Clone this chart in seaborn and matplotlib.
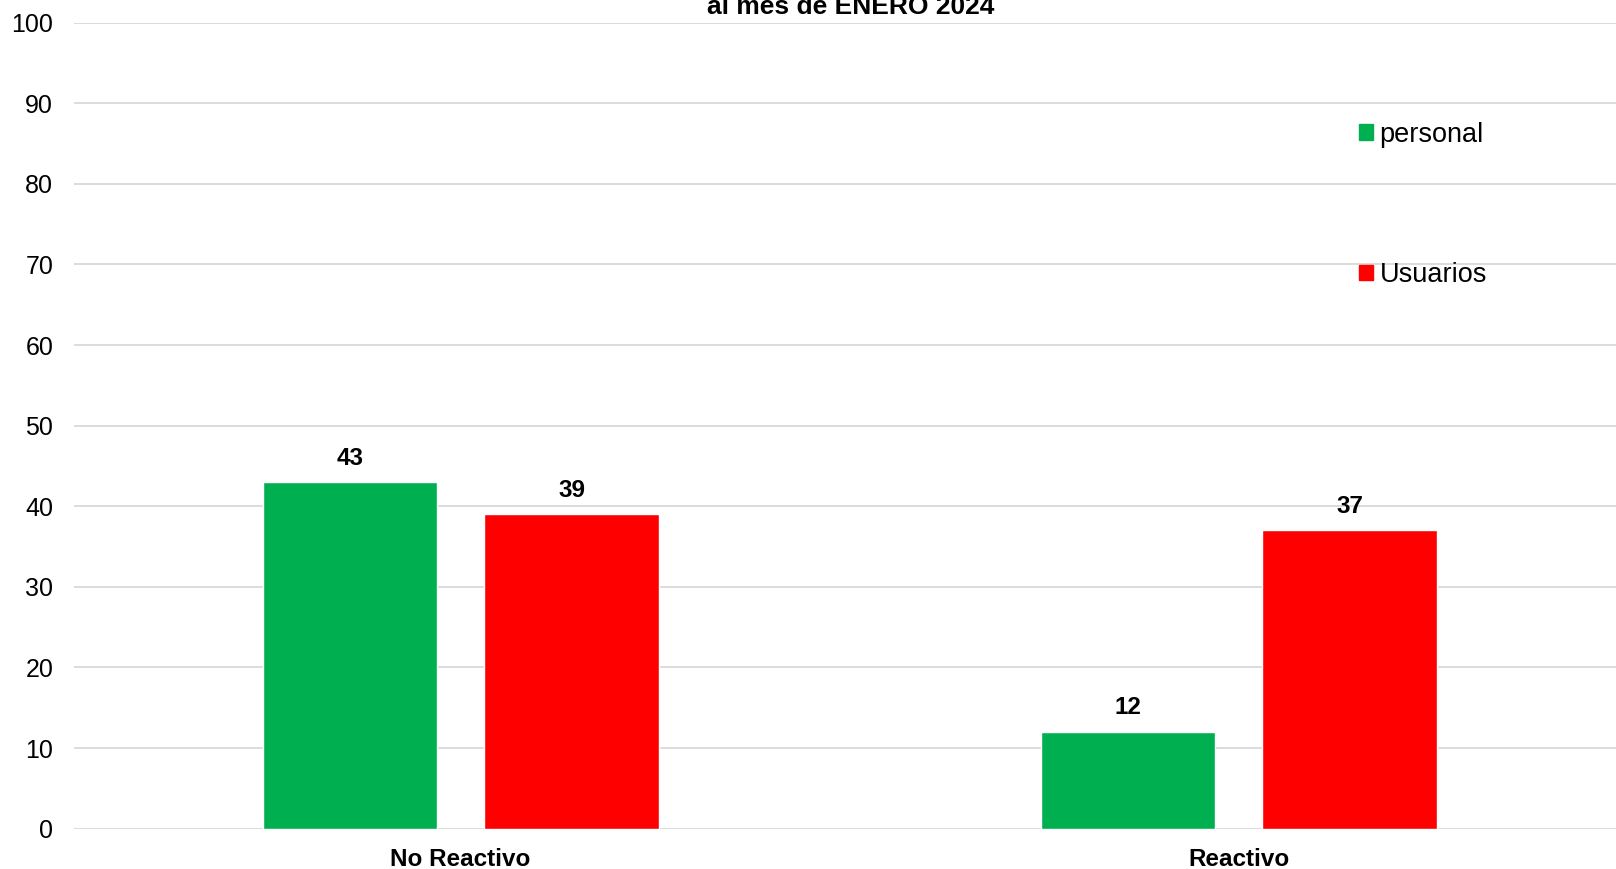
import pandas as pd
import matplotlib
matplotlib.use("Agg")
import matplotlib.pyplot as plt
import seaborn as sns

# datos
categorias = ["No Reactivo", "Reactivo"]
personal = [43, 12]
usuarios = [39, 37]
series = ["personal", "Usuarios"]
colores = ["#00B050", "#FF0000"]

df = pd.DataFrame({
    "categoria": categorias * 2,
    "serie": [series[0]] * 2 + [series[1]] * 2,
    "valor": personal + usuarios,
})

sns.set_style("white")
plt.rcParams["font.family"] = ["Liberation Sans", "DejaVu Sans"]
plt.rcParams["text.color"] = "black"
plt.rcParams["xtick.color"] = "black"
plt.rcParams["ytick.color"] = "black"

fig = plt.figure(figsize=(16.16, 8.69), dpi=100)
ax = fig.add_axes([0.0458, 0.0465, 0.9542, 0.9274])

sns.barplot(data=df, x="categoria", y="valor", hue="serie", palette=colores,
            width=0.57, gap=0.214, saturation=1, ax=ax, legend=False, zorder=3)

for cont in ax.containers:
    ax.bar_label(cont, fmt="%d", padding=9, fontsize=17.5, fontweight="bold",
                 color="black")

ax.set_ylim(0, 100)
ax.set_yticks(range(0, 101, 10))
ax.set_xlim(-0.497, 1.485)
ax.grid(axis="y", color="#d9d9d9", linewidth=1.3, zorder=0)
ax.set_axisbelow(True)
for s in ax.spines.values():
    s.set_visible(False)
ax.tick_params(axis="y", labelsize=18, length=0, pad=15)
ax.tick_params(axis="x", labelsize=17.5, length=0, pad=14)
for t in ax.get_xticklabels():
    t.set_fontweight("bold")
ax.set_xlabel("")
ax.set_ylabel("")

handles = [plt.Rectangle((0, 0), 1, 1, color=c) for c in colores]
fig.legend(handles, series, loc="upper left", bbox_to_anchor=(0.826, 0.888),
           frameon=False, fontsize=19.5, handlelength=0.5, handleheight=0.5,
           handletextpad=0.25, labelspacing=4.22)

fig.text(0.5267, 0.984, "al mes de ENERO 2024", ha="center", va="baseline",
         fontsize=19, fontweight="bold")

fig.savefig("out.png", dpi=100)
